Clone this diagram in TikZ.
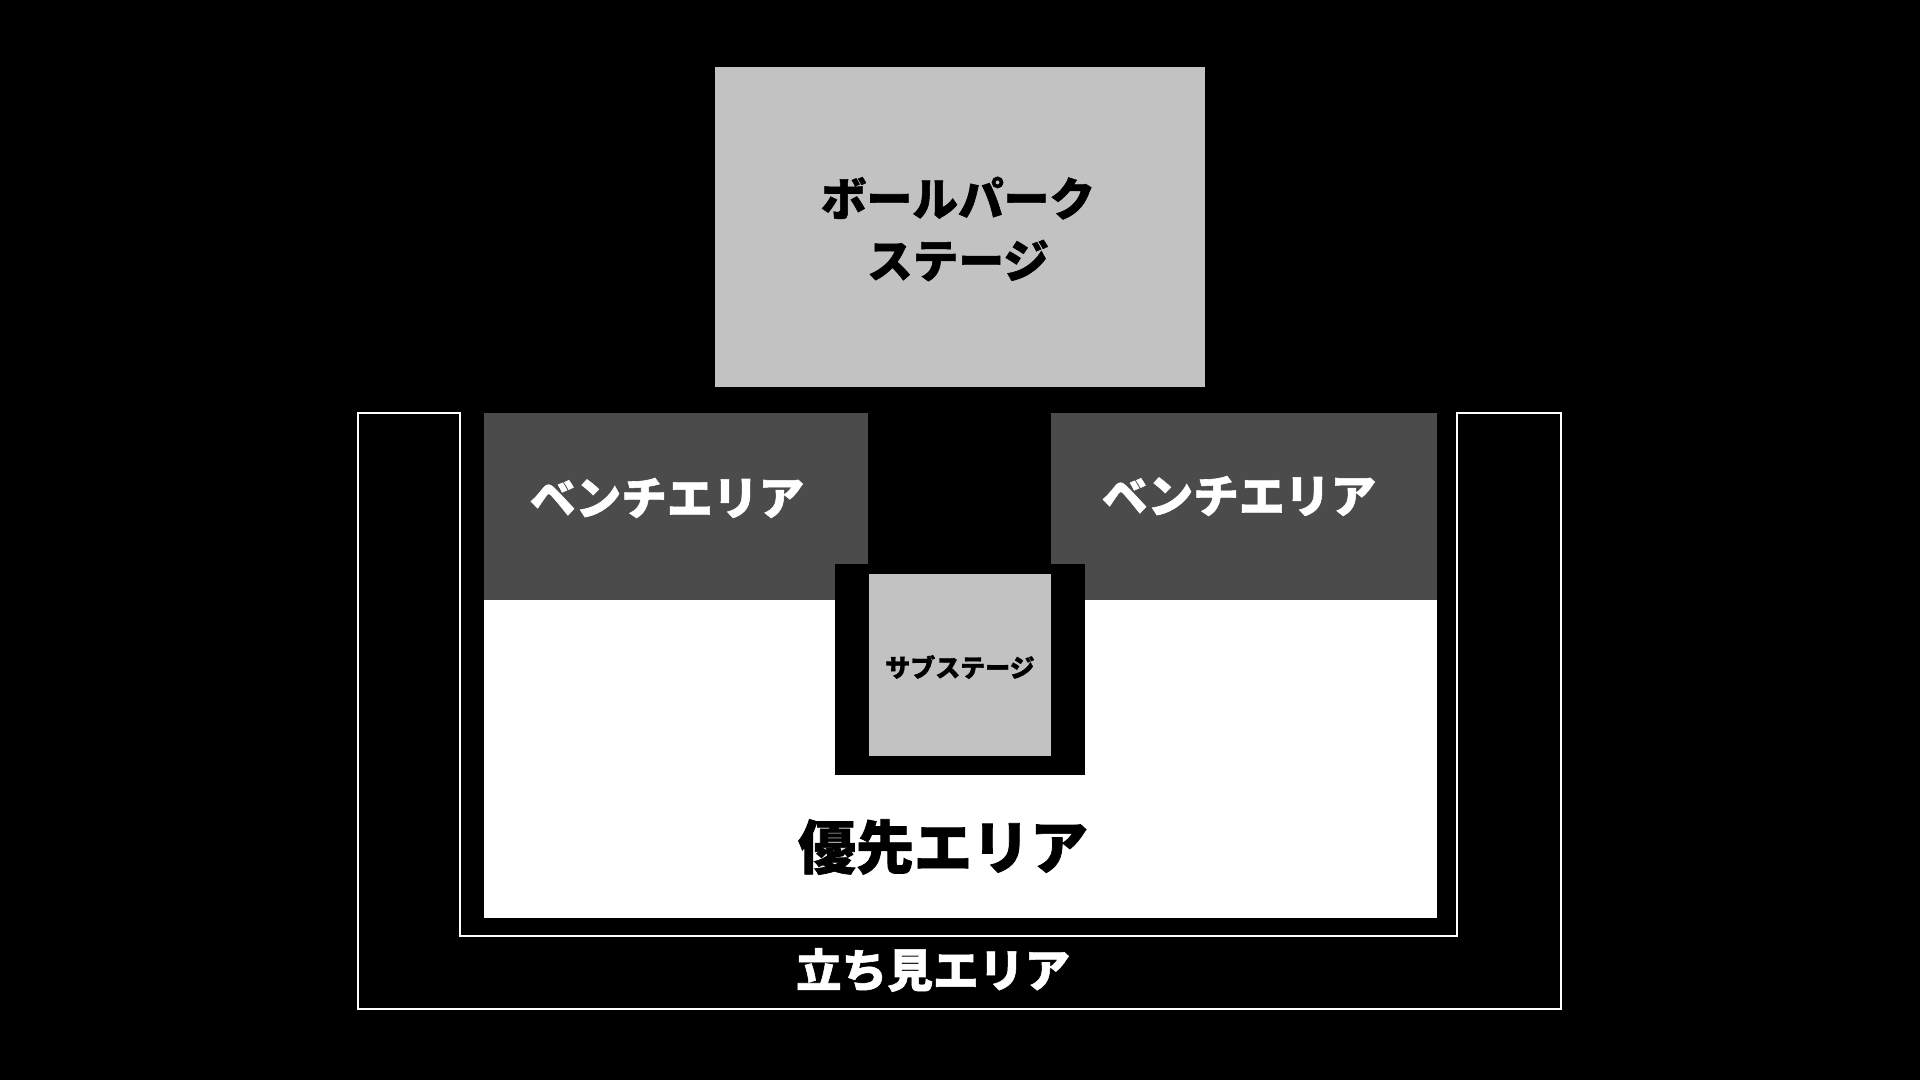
\documentclass[tikz,border=0pt]{standalone}
\usepackage{fontspec}
\newfontfamily\jpfont{Noto Sans CJK JP}[BoldFeatures={FakeBold=1.2}]
\tikzset{
  stagegray/.style={fill={rgb,255:red,194;green,194;blue,194}},
  benchgray/.style={fill={rgb,255:red,75;green,75;blue,75}},
  frameline/.style={draw=white,line width=0.7pt},
  bigtext/.style={font=\jpfont\bfseries\fontsize{13pt}{17.6pt}\selectfont,align=center,inner sep=0pt},
  hugetext/.style={font=\jpfont\bfseries\fontsize{16.5pt}{20pt}\selectfont,inner sep=0pt},
  smalltext/.style={font=\jpfont\bfseries\fontsize{7.1pt}{9pt}\selectfont,inner sep=0pt}
}
\begin{document}
\begin{tikzpicture}[x=0.01cm,y=-0.01cm]
\fill[black] (0,0) rectangle (1920,1080);
%
\fill[stagegray] (715,67) rectangle (1205,387);
\node[bigtext] (ballpark) at (958,229) {ボールパーク\\ステージ};
%
\draw[frameline] (358,413) -- (460,413) -- (460,936) -- (1457,936) -- (1457,413)
  -- (1561,413) -- (1561,1009) -- (358,1009) -- cycle;
%
\fill[benchgray] (484,413) rectangle (868,600);
\fill[benchgray] (1051,413) rectangle (1437,600);
\fill[white] (484,600) rectangle (1437,918);
\node[bigtext,text=white] (benchL) at (667,498) {ベンチエリア};
\node[bigtext,text=white] (benchR) at (1239,496) {ベンチエリア};
%
\fill[black] (835,564) rectangle (1085,775);
\fill[stagegray] (869,574) rectangle (1051,756);
\node[smalltext] (sub) at (960,667) {サブステージ};
%
\node[hugetext] (priority) at (943,847) {優先エリア};
\node[bigtext,text=white] (standing) at (933,970) {立ち見エリア};
\end{tikzpicture}
\end{document}
